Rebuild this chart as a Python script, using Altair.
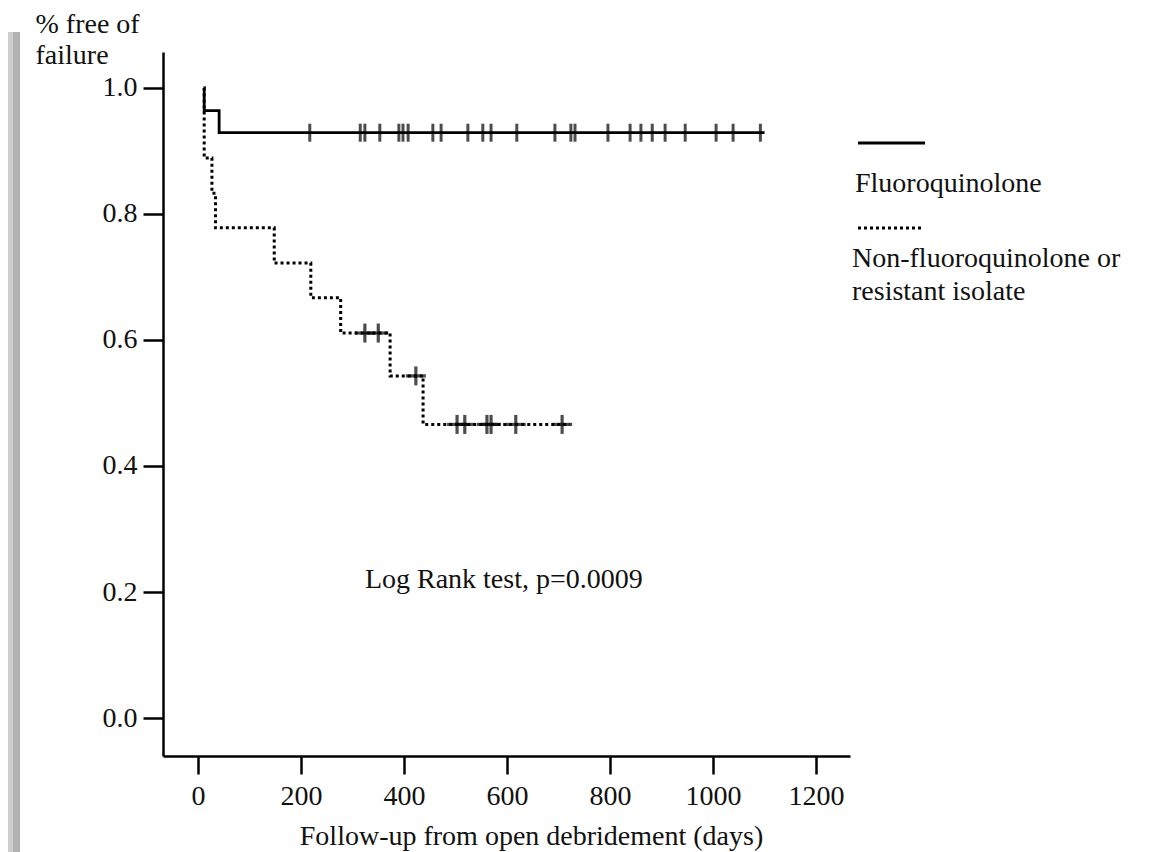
import altair as alt
import pandas as pd

# ---- data ----
series_names = ["Fluoroquinolone", "Non-fluoroquinolone or resistant isolate"]

fq_days = [11, 12, 41, 1100]
fq_surv = [1.0, 0.964, 0.929, 0.929]

nfq_days = [11, 12, 27, 34, 148, 219, 277, 373, 437, 722]
nfq_surv = [1.0, 0.889, 0.833, 0.778, 0.722, 0.667, 0.611, 0.543, 0.466, 0.466]

fq_cens_days = [217, 315, 324, 353, 390, 398, 408, 456, 472, 524, 553, 569, 619,
                693, 724, 732, 796, 839, 860, 882, 907, 946, 1006, 1039, 1092]
fq_cens_surv = [0.929] * len(fq_cens_days)

nfq_cens_days = [324, 350, 423, 503, 518, 561, 569, 617, 707]
nfq_cens_surv = [0.611, 0.611, 0.543, 0.466, 0.466, 0.466, 0.466, 0.466, 0.466]

x_ticks = [0, 200, 400, 600, 800, 1000, 1200]
y_ticks = [0.0, 0.2, 0.4, 0.6, 0.8, 1.0]
annotation = "Log Rank test, p=0.0009"
annot_x, annot_y = 324, 0.206

FONT = "Liberation Serif"
FS = 28
INK = "#111111"

fq_df = pd.DataFrame({"day": fq_days, "surv": fq_surv})
nfq_df = pd.DataFrame({"day": nfq_days, "surv": nfq_surv})
fqc_df = pd.DataFrame({"day": fq_cens_days, "surv": fq_cens_surv})
nfqc_df = pd.DataFrame({"day": nfq_cens_days, "surv": nfq_cens_surv})

xs = alt.Scale(domain=[-68, 1266], nice=False, zero=False)
ys = alt.Scale(domain=[-0.0603, 1.0571], nice=False, zero=False)

x_axis = alt.Axis(values=x_ticks, format="d", grid=False, tickSize=18, tickWidth=2.5,
                  tickColor="black", domainColor="black", domainWidth=2.5, labelFont=FONT,
                  labelFontSize=FS, labelColor=INK, labelPadding=8, titleFont=FONT,
                  titleFontSize=FS, titleFontWeight="normal", titleColor=INK,
                  titleBaseline="alphabetic", titleX=368, titleY=88, titleAlign="center")
y_axis = alt.Axis(values=y_ticks, format=".1f", grid=False, tickSize=20, tickWidth=2.5,
                  tickColor="black", domainColor="black", domainWidth=2.5, labelFont=FONT,
                  labelFontSize=FS, labelColor=INK, labelPadding=6, titleFont=FONT,
                  titleFontSize=FS, titleFontWeight="normal", titleColor=INK, titleAngle=0,
                  titleAlign="left", titleBaseline="alphabetic", titleX=-128, titleY=-20,
                  titleLineHeight=31)

fq_line = alt.Chart(fq_df).mark_line(interpolate="step-after", color="black", strokeWidth=2.8).encode(
    x=alt.X("day:Q", scale=xs, axis=x_axis, title="Follow-up from open debridement (days)"),
    y=alt.Y("surv:Q", scale=ys, axis=y_axis, title=["% free of", "failure"]),
)
nfq_line = alt.Chart(nfq_df).mark_line(interpolate="step-after", color="black", strokeWidth=3,
                                      strokeDash=[3, 3]).encode(x="day:Q", y="surv:Q")

fq_cens = alt.Chart(fqc_df).mark_tick(orient="vertical", size=18, thickness=3, color="black").encode(
    x="day:Q", y="surv:Q")
nfq_cens_v = alt.Chart(nfqc_df).mark_tick(orient="vertical", size=19, thickness=3.2, color="black").encode(
    x="day:Q", y="surv:Q")
nfq_cens_h = alt.Chart(nfqc_df).mark_tick(orient="horizontal", size=20, thickness=3.2, color="black").encode(
    x="day:Q", y="surv:Q")

annot = alt.Chart(pd.DataFrame({"t": [annotation], "x": [annot_x], "y": [annot_y]})).mark_text(
    font=FONT, fontSize=FS, color=INK, align="left", baseline="alphabetic").encode(
    x="x:Q", y="y:Q", text="t:N")

# legend drawn by hand (line sample above its label)
leg_df = pd.DataFrame({"k": [0]})
leg_solid = alt.Chart(leg_df).mark_rule(color="black", strokeWidth=3).encode(
    x=alt.value(695), x2=alt.value(762), y=alt.value(91))
leg_dot = alt.Chart(leg_df).mark_rule(color="black", strokeWidth=3, strokeDash=[3, 3]).encode(
    x=alt.value(695), x2=alt.value(759), y=alt.value(176))
leg_t1 = alt.Chart(leg_df).mark_text(font=FONT, fontSize=FS, color=INK, align="left",
                                     baseline="alphabetic", text=series_names[0]).encode(
    x=alt.value(692), y=alt.value(140))
leg_t2 = alt.Chart(leg_df).mark_text(font=FONT, fontSize=FS, color=INK, align="left",
                                     baseline="alphabetic", lineHeight=33,
                                     text=["Non-fluoroquinolone or", "resistant isolate"]).encode(
    x=alt.value(689), y=alt.value(215))

# grey page-edge stripe seen at the left of the reference
stripe1 = alt.Chart(leg_df).mark_rect(color="#cdcdcd").encode(
    x=alt.value(-155), x2=alt.value(-150), y=alt.value(-20), y2=alt.value(800))
stripe2 = alt.Chart(leg_df).mark_rect(color="#b2b2b2").encode(
    x=alt.value(-150), x2=alt.value(-143), y=alt.value(-20), y2=alt.value(800))

chart = alt.layer(
    stripe1, stripe2, fq_line, nfq_line, fq_cens, nfq_cens_v, nfq_cens_h, annot,
    leg_solid, leg_dot, leg_t1, leg_t2,
).properties(
    width=687, height=704,
    padding={"left": 155, "top": 44, "right": 292, "bottom": 98},
    autosize=alt.AutoSizeParams(type="none"),
    background="white",
).configure_view(stroke=None)

chart.save("out.html", embed_options={"renderer": "svg", "actions": False})
